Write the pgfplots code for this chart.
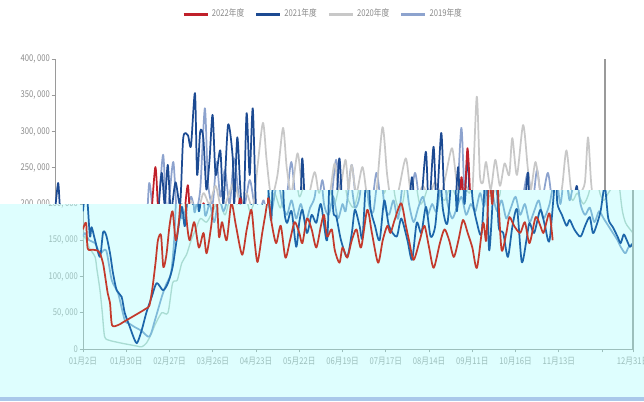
\documentclass[border=0pt]{standalone}
\usepackage{pgfplots}
\pgfplotsset{compat=1.18}
\usepackage{pgfplotstable}
\usepackage{fontspec}
\setmainfont{Noto Sans CJK SC}[FakeStretch=0.82]

\definecolor{uRed}{HTML}{C0202A}
\definecolor{uBlue}{HTML}{1C4A92}
\definecolor{uGray}{HTML}{C8C8C8}
\definecolor{uBG}{HTML}{8DA3CE}
\definecolor{lRed}{HTML}{C43A2C}
\definecolor{lBlue}{HTML}{1D66AA}
\definecolor{lTeal}{HTML}{A9DCD3}
\definecolor{lLB}{HTML}{7FBAD9}
\definecolor{axgray}{HTML}{9A9A9A}
\definecolor{txtgray}{HTML}{8A8A8A}
\definecolor{lowtxt}{HTML}{9CBFBC}
\definecolor{cyanbg}{HTML}{DEFEFE}
\definecolor{stripe}{HTML}{A9C8EA}

\pgfplotstableread[row sep=\\]{
i v\\
0 165\\ 2 174\\ 3 139\\ 6 137\\ 9 136\\ 11 132\\ 13 118\\ 14 105\\ 16 77\\ 17.5 63\\ 18.8 33\\ 22.7 33\\ 26 37\\ 30 42\\ 34 47\\ 38 52\\ 41 56\\ 43 60\\ 45 85\\ 47 120\\ 48.5 150\\ 50.5 157\\ 52 113\\ 54 130\\ 56 170\\ 58 190\\ 60 150\\ 62 175\\ 65 251\\ 67 180\\ 69 150\\ 72 175\\ 75 140\\ 78 160\\ 80 132\\ 83 170\\ 86 226\\ 88 155\\ 90 175\\ 93 150\\ 96 201\\ 99 170\\ 103 130\\ 106 165\\ 109 192\\ 111 150\\ 113 120\\ 116 160\\ 118 185\\ 120 208\\ 122 175\\ 125 146\\ 128 170\\ 131 126\\ 134 150\\ 137 175\\ 140 160\\ 142 146\\ 145 180\\ 148 165\\ 151 140\\ 154 170\\ 156 185\\ 158 155\\ 161 165\\ 163 136\\ 166 119\\ 168 140\\ 171 126\\ 174 150\\ 177 165\\ 180 140\\ 184 192\\ 187 160\\ 191 119\\ 194 150\\ 197 170\\ 199 160\\ 202 180\\ 206 201\\ 209 170\\ 211 150\\ 214 123\\ 218 150\\ 221 170\\ 224 140\\ 227 112\\ 231 146\\ 234 165\\ 237 150\\ 240 127\\ 243 150\\ 246 178\\ 249 160\\ 252 140\\ 255 112\\ 259 174\\ 261 150\\ 263 237\\ 265 200\\ 267 277\\ 269 201\\ 271 136\\ 274 160\\ 276 182\\ 279 170\\ 283 160\\ 286 175\\ 289 146\\ 293 182\\ 296 170\\ 298 160\\ 300 175\\ 302 187\\ 304 150\\
}\tTwoTwo

\pgfplotstableread[row sep=\\]{
i v\\
0 190\\ 2 229\\ 3 201\\ 4.5 155\\ 5.6 168\\ 7.8 150\\ 11 127\\ 13 161\\ 15 157\\ 17.5 132\\ 19.4 105\\ 21.8 81\\ 25 72\\ 27 50\\ 30.4 30\\ 31.7 22\\ 34.8 8\\ 38 26\\ 41 50\\ 44.5 72\\ 47.7 91\\ 51.8 81\\ 55 91\\ 58 113\\ 60.6 150\\ 64 196\\ 66 170\\ 69 243\\ 71 200\\ 73 254\\ 75 190\\ 78 230\\ 81 200\\ 83 291\\ 86 295\\ 88 280\\ 90.6 353\\ 92 240\\ 94 300\\ 96 291\\ 98 220\\ 100 260\\ 102 323\\ 104 240\\ 107 274\\ 109 200\\ 112 309\\ 115 265\\ 116 200\\ 118 292\\ 120 220\\ 122 180\\ 124 325\\ 126 240\\ 128 332\\ 130 200\\ 132 174\\ 135 190\\ 138 141\\ 140 175\\ 142 192\\ 145 160\\ 148 185\\ 151 174\\ 154 200\\ 158 150\\ 160 263\\ 162 190\\ 164 182\\ 167 150\\ 171 127\\ 174 160\\ 176 192\\ 179 170\\ 181 155\\ 184 263\\ 186 196\\ 189 170\\ 192 150\\ 195 205\\ 198 170\\ 203 155\\ 206 180\\ 210 150\\ 213 123\\ 216 174\\ 219 160\\ 222 196\\ 225 155\\ 228 170\\ 231 237\\ 233 192\\ 236 175\\ 240 272\\ 242 190\\ 245 279\\ 247 200\\ 250 298\\ 252 210\\ 255 174\\ 258 160\\ 261 251\\ 263 136\\ 267 263\\ 269 170\\ 272 160\\ 275 127\\ 278 170\\ 281 192\\ 284 120\\ 287 150\\ 289 174\\ 292 160\\ 296 192\\ 299 170\\ 302 150\\ 306 243\\ 307 201\\ 310 185\\ 313 170\\ 315 178\\ 318 165\\ 322 155\\ 325 170\\ 328 182\\ 330 160\\ 332 168\\ 335 190\\ 337 219\\ 338 223\\ 340 180\\ 343 168\\ 346 155\\ 348 146\\ 350 158\\ 352 150\\ 354 141\\ 356 146\\
}\tTwoOne

\pgfplotstableread[row sep=\\]{
i v\\
0 150\\ 1.3 155\\ 4 140\\ 7.8 127\\ 9 110\\ 11 81\\ 12.5 50\\ 14 17\\ 17 12\\ 20.7 10\\ 25 8\\ 30 6\\ 35 4\\ 38 3\\ 41 8\\ 44 20\\ 47 35\\ 51 50\\ 55 50\\ 58 91\\ 61 95\\ 64 119\\ 67 130\\ 70 150\\ 73 165\\ 76 180\\ 80 175\\ 84 190\\ 88 205\\ 92 185\\ 96 215\\ 100 200\\ 104 225\\ 108 190\\ 112 210\\ 116 230\\ 120 200\\ 124 215\\ 128 195\\ 131 250\\ 134.6 312\\ 137 260\\ 140 210\\ 144 240\\ 147.6 305\\ 150 250\\ 153 215\\ 157 270\\ 160 220\\ 163 200\\ 168 244\\ 171 210\\ 175 195\\ 178 215\\ 181 256\\ 184 215\\ 188 261\\ 190 220\\ 192 254\\ 195 215\\ 199 251\\ 202 210\\ 205 190\\ 208 215\\ 212 306\\ 215 240\\ 218 200\\ 222 215\\ 227 263\\ 230 220\\ 234 205\\ 238 225\\ 242 210\\ 246 230\\ 250 215\\ 253 240\\ 257 277\\ 260 230\\ 263 210\\ 266 225\\ 270 215\\ 273 348\\ 275 240\\ 277 230\\ 279 258\\ 282 220\\ 285 261\\ 288 225\\ 291 256\\ 294 240\\ 296 291\\ 299 240\\ 303 309\\ 306 250\\ 308 220\\ 311 258\\ 314 220\\ 317 205\\ 320 215\\ 324 200\\ 328 220\\ 331 274\\ 334 220\\ 337 205\\ 340 215\\ 343 230\\ 345 292\\ 347 230\\ 349 192\\ 351 175\\ 353 168\\ 356 160\\
}\tTwoZero

\pgfplotstableread[row sep=\\]{
i v\\
0 155\\ 1.3 160\\ 4 150\\ 7.8 146\\ 11 132\\ 15 136\\ 18.6 95\\ 22.7 77\\ 27 40\\ 30 35\\ 33.7 30\\ 38 25\\ 43 17\\ 46.6 40\\ 51 72\\ 54 90\\ 57 105\\ 59 150\\ 61 229\\ 64 180\\ 67 200\\ 70 268\\ 72 190\\ 74 210\\ 76.6 258\\ 79 185\\ 82 200\\ 85 175\\ 88 210\\ 91 190\\ 94 220\\ 97 332\\ 99 230\\ 102 200\\ 104.6 258\\ 107 210\\ 110 247\\ 113 200\\ 116 263\\ 119 210\\ 122 190\\ 126 233\\ 129 200\\ 132 185\\ 135 205\\ 138 180\\ 141 200\\ 144 175\\ 147 195\\ 150 210\\ 153 258\\ 156 200\\ 159 185\\ 162 210\\ 165 180\\ 168 200\\ 170 190\\ 173 233\\ 176 195\\ 179 210\\ 182 261\\ 185 200\\ 188 190\\ 192 254\\ 195 200\\ 198 185\\ 201 205\\ 204 180\\ 208 243\\ 211 200\\ 214 175\\ 217 195\\ 220 210\\ 223 185\\ 226 200\\ 229 190\\ 233 243\\ 236 200\\ 239 180\\ 242 195\\ 245 210\\ 248 185\\ 251 200\\ 254 190\\ 257 215\\ 260 200\\ 263 305\\ 265 220\\ 268 190\\ 271 205\\ 274 180\\ 277 195\\ 280 210\\ 283 185\\ 286 200\\ 289 175\\ 292 190\\ 295 205\\ 298 180\\ 302 200\\ 306 243\\ 309 200\\ 312 247\\ 315 205\\ 319 243\\ 322 200\\ 325 185\\ 328 195\\ 331 175\\ 334 190\\ 337 180\\ 340 170\\ 343 160\\ 346 150\\ 348 141\\ 351 132\\ 353 140\\ 356 146\\
}\tOneNine

\pgfplotsset{
  base/.style={
    scale only axis, width=412.5pt, height=217.5pt,
    xmin=0, xmax=356, ymin=0, ymax=400,
    clip mode=individual,
    axis x line*=bottom, axis y line*=left,
    axis line style={draw=axgray, line width=0.6pt},
    tick style={draw=axgray, line width=0.6pt},
    major tick length=2.6pt, tick align=outside,
    xtick={0,28,56,84,112,140,168,196,224,252,280,308,336,356},
    /pgf/number format/assume math mode=true,
    tick label style={font=\fontsize{7}{8}\selectfont},
    yticklabel style={inner sep=1pt},
    xticklabel style={inner sep=0.5pt, yshift=-3pt},
    every axis plot/.append style={smooth, tension=0.45, line width=1.3pt, line join=round},
  }
}

\begin{document}
\begin{tikzpicture}
\path[use as bounding box] (0,0) rectangle (483pt,300.75pt);
% upper (shifted) rendering
\begin{axis}[base, at={(41.25pt,39pt)}, anchor=south west,
  tick label style={text=txtgray},
  ytick={0,50,...,400},
  yticklabels={{},{},{},{},{200, 000},{250, 000},{300, 000},{350, 000},{400, 000}},
  xticklabels={},
  reverse legend,
  legend style={at={(0.488,1.155)}, anchor=center, draw=none, fill=none,
    legend columns=4, font=\fontsize{7}{8}\selectfont, text=txtgray,
    /tikz/every even column/.append style={column sep=6pt}},
  legend image code/.code={\draw[#1, line width=2.2pt] (0pt,0pt) -- (18pt,0pt);},
]
\addplot[uBG] table[x=i, y=v] {\tOneNine};
\addplot[uGray] table[x=i, y=v] {\tTwoZero};
\addplot[uBlue] table[x=i, y=v] {\tTwoOne};
\addplot[uRed] table[x=i, y=v] {\tTwoTwo};
\legend{2019年度,2020年度,2021年度,2022年度}
\draw[axgray, line width=0.8pt] (axis cs:356,0) -- (axis cs:356,400);
\end{axis}
% cyan band
\fill[cyanbg] (0,147.75pt) -- (200.25pt,147.75pt) -- (200.25pt,158.25pt) -- (483pt,158.25pt) -- (483pt,3pt) -- (0,3pt) -- cycle;
\fill[stripe] (0,0) rectangle (483pt,3pt);
% lower rendering
\begin{scope}
\clip (0,147.75pt) -- (200.25pt,147.75pt) -- (200.25pt,158.25pt) -- (483pt,158.25pt) -- (483pt,3pt) -- (0,3pt) -- cycle;
\begin{axis}[base, at={(62.25pt,39pt)}, anchor=south west,
  tick label style={text=lowtxt},
  axis line style={draw=lowtxt}, tick style={draw=lowtxt},
  ytick={0,50,...,400},
  yticklabels={0,{50, 000},{100, 000},{150, 000},{200, 000},{},{},{},{}},
  xticklabels={01月2日,01月30日,02月27日,03月26日,04月23日,05月22日,06月19日,07月17日,08月14日,09月11日,10月16日,11月13日,{},12月31日},
]
\addplot[lTeal, line width=1pt] table[x=i, y=v] {\tTwoZero};
\addplot[lLB] table[x=i, y=v] {\tOneNine};
\addplot[lBlue] table[x=i, y=v] {\tTwoOne};
\addplot[lRed] table[x=i, y=v] {\tTwoTwo};
\draw[lowtxt, line width=0.8pt] (axis cs:356,0) -- (axis cs:356,400);
\end{axis}
\end{scope}
\end{tikzpicture}
\end{document}
